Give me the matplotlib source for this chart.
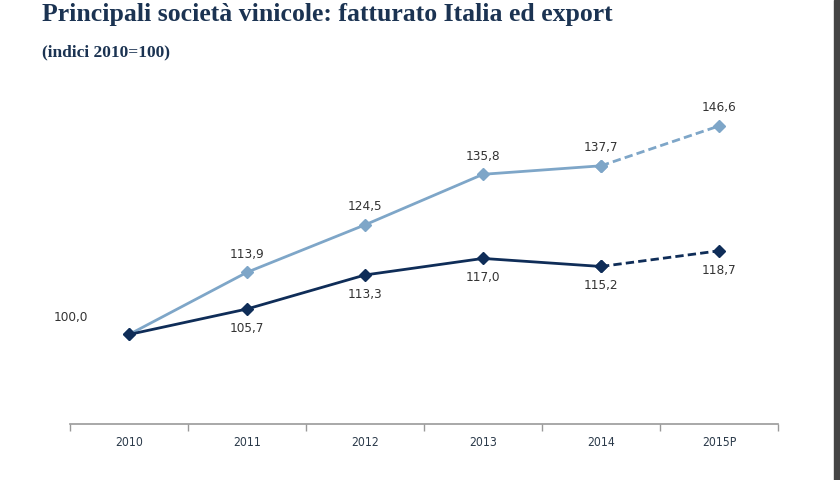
import matplotlib
matplotlib.use("Agg")
import matplotlib.pyplot as plt
from matplotlib.patches import Rectangle

anni = ["2010", "2011", "2012", "2013", "2014", "2015P"]
italia_export = [100.0, 113.9, 124.5, 135.8, 137.7, 146.6]
italia = [100.0, 105.7, 113.3, 117.0, 115.2, 118.7]

chiaro = "#7ea6c8"
scuro = "#0f2d58"
testo = "#333333"

fig = plt.figure(figsize=(8.4, 4.8), dpi=100)
ax = fig.add_axes([70 / 840, 1 - 424 / 480, 708 / 840, 358 / 480])

x = list(range(len(anni)))
# tratti pieni fino al 2014, tratteggiato verso la previsione
for serie, col in ((italia_export, chiaro), (italia, scuro)):
    ax.plot(x[:5], serie[:5], color=col, lw=2, marker="D", ms=6, zorder=3)
    ax.plot(x[4:], serie[4:], color=col, lw=2, ls=(0, (3, 1.5)), marker="D", ms=6, zorder=3)

def fmt(v):
    return f"{v:.1f}".replace(".", ",")

# etichette: offset in punti (1 px = 0.72 pt)
for i, v in enumerate(italia_export):
    if i == 0:
        continue
    ax.annotate(fmt(v), (i, v), xytext=(0, 13), textcoords="offset points",
                ha="center", va="center", fontsize=8.7, color=testo)
for i, v in enumerate(italia):
    if i == 0:
        continue
    ax.annotate(fmt(v), (i, v), xytext=(0, -14), textcoords="offset points",
                ha="center", va="center", fontsize=8.7, color=testo)
ax.annotate(fmt(italia[0]), (0, italia[0]), xytext=(-42, 12), textcoords="offset points",
            ha="center", va="center", fontsize=8.7, color=testo)

ax.set_xlim(-0.5, 5.5)
ax.set_ylim(80, 160)
ax.set_xticks(x)
ax.set_xticklabels(anni, fontsize=8.7, color="#2b3a4a", fontstretch="condensed")
ax.set_xticks([i - 0.5 for i in range(len(anni) + 1)], minor=True)
ax.tick_params(axis="x", which="major", length=0, pad=9)
ax.tick_params(axis="x", which="minor", length=5, color="#999999", width=1)
ax.set_yticks([])
for s in ("top", "right", "left"):
    ax.spines[s].set_visible(False)
ax.spines["bottom"].set_color("#999999")
ax.spines["bottom"].set_linewidth(1.2)

fig.text(42 / 840, 1 - 15 / 480, "Principali società vinicole: fatturato Italia ed export",
         fontsize=18.5, fontweight="bold", family="Liberation Serif", color="#1b3352", va="center")
fig.text(42 / 840, 1 - 52 / 480, "(indici 2010=100)",
         fontsize=12.5, fontweight="bold", family="Liberation Serif", color="#1b3352", va="center")

fig.patches.append(Rectangle((834 / 840, 0), 6 / 840, 1, transform=fig.transFigure,
                             color="#454545", zorder=5))

fig.savefig("out.png", dpi=100)
